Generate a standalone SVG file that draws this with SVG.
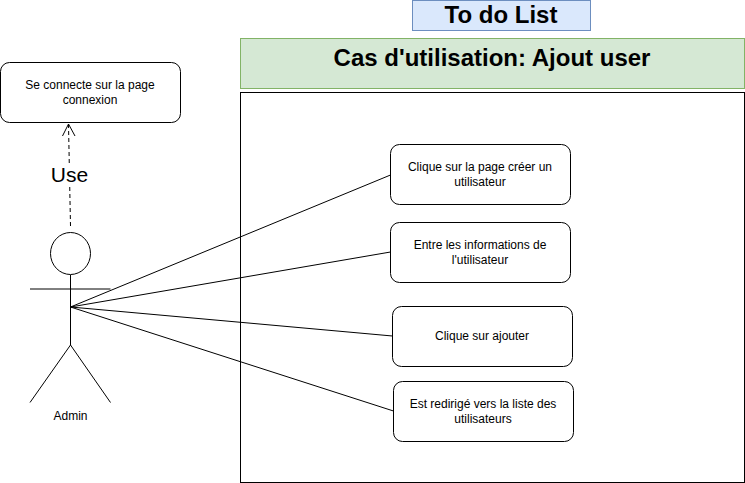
<svg xmlns="http://www.w3.org/2000/svg" width="745" height="483" viewBox="0 0 745 483">
<style>
text{font-family:"Liberation Sans",Arial,sans-serif;fill:#000;text-anchor:middle}
.n{fill:#fff;stroke:#000;stroke-width:1}
.s{font-size:12px}
.l{fill:none;stroke:#000;stroke-width:1}
</style>
<rect width="745" height="483" fill="#fff"/>
<g id="title"><rect x="412.500" y="0.500" width="178" height="30" fill="#dae8fc" stroke="#6c8ebf"/><text x="501" y="23" font-size="24" font-weight="bold">To do List</text></g>
<g id="header"><rect x="240.500" y="38.500" width="504" height="50" fill="#d5e8d4" stroke="#82b366"/><text x="492" y="66" font-size="24" font-weight="bold">Cas d'utilisation: Ajout user</text></g>
<g id="boundary"><rect x="240.500" y="92.500" width="504" height="390" fill="#fff" stroke="#000"/></g>
<g id="connectors">
<path class="l" d="M70.500 226L68.500 124" stroke-dasharray="4 3"/>
<path class="l" d="M62.500 136L68.500 124L75 136"/>
<rect x="48" y="163" width="44" height="24" fill="#fff"/>
<text x="69.500" y="182" font-size="21">Use</text>
<path class="l" d="M70.500 307L390.500 175M70.500 307L390.500 252M70.500 307L392.500 336M70.500 307L393.500 411"/>
</g>
<g id="admin">
<ellipse class="n" cx="70.500" cy="253.500" rx="20" ry="21"/>
<path class="l" d="M70.500 275V345M30 289H110.500M70.500 345L30 402.500M70.500 345L110.500 402.500"/>
<text class="s" x="70.500" y="420">Admin</text>
</g>
<g id="n0"><rect class="n" x="0.500" y="62.500" width="180" height="60" rx="9"/><text class="s" x="90" y="89">Se connecte sur la page</text><text class="s" x="90" y="104">connexion</text></g>
<g id="n1"><rect class="n" x="390.500" y="144.500" width="180" height="60" rx="9"/><text class="s" x="480" y="171">Clique sur la page créer un</text><text class="s" x="480" y="186">utilisateur</text></g>
<g id="n2"><rect class="n" x="390.500" y="222.500" width="180" height="60" rx="9"/><text class="s" x="480" y="249">Entre les informations de</text><text class="s" x="480" y="264">l'utilisateur</text></g>
<g id="n3"><rect class="n" x="392.500" y="306.500" width="180" height="60" rx="9"/><text class="s" x="482" y="340">Clique sur ajouter</text></g>
<g id="n4"><rect class="n" x="393.500" y="381.500" width="180" height="60" rx="9"/><text class="s" x="483" y="408">Est redirigé vers la liste des</text><text class="s" x="483" y="423">utilisateurs</text></g>
</svg>
